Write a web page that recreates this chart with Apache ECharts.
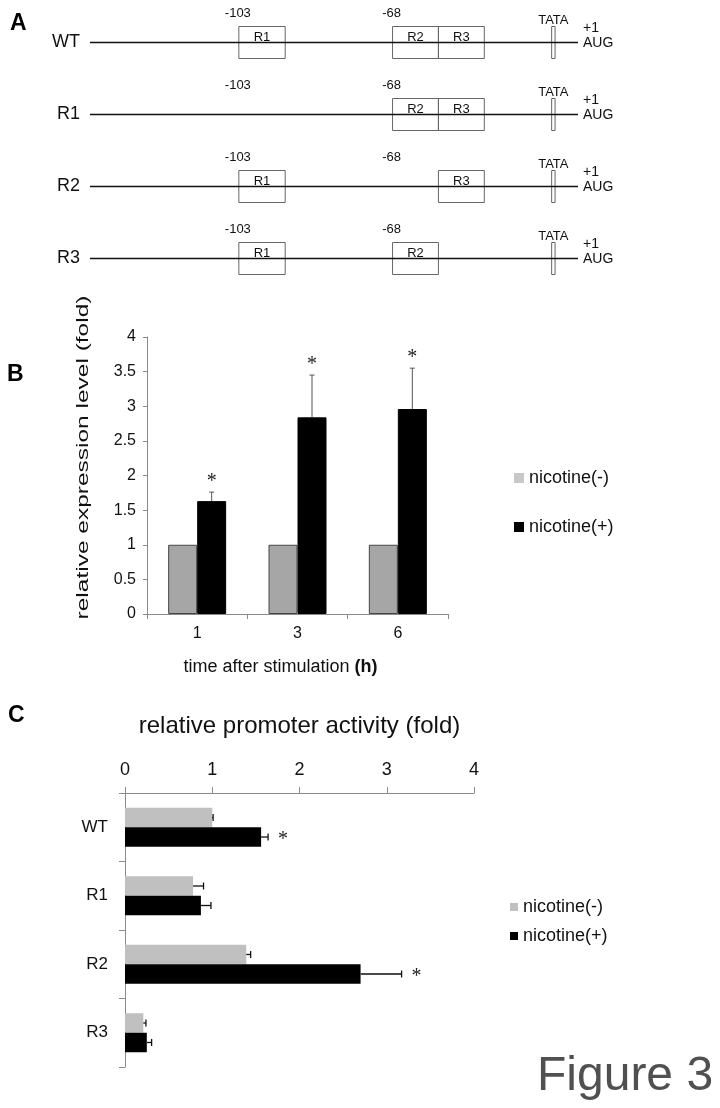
<!DOCTYPE html>
<html><head><meta charset="utf-8">
<script src="https://cdn.jsdelivr.net/npm/echarts@6/dist/echarts.min.js"></script>
<style>html,body{margin:0;padding:0;background:#fff}#c{width:720px;height:1108px}</style>
</head><body><div id="c"></div>
<script>
// ---------- Panel A: promoter constructs (schematic units 0..100) ----------
const constructs = ['WT', 'R1', 'R2', 'R3'];
const regionNames = ['R1', 'R2', 'R3'];
const regionStart = [30.5, 62.0, 71.4];
const regionEnd = [40.0, 71.4, 80.8];
const regionSiteLabels = ['-103', '-68', ''];
const deletedRegion = [null, 'R1', 'R2', 'R3'];
const backboneSpan = [0, 100];
const tataSpan = [94.6, 95.3];
const tataLabel = 'TATA';
const startLabels = ['+1', 'AUG'];

// ---------- Panel B: expression time course ----------
const timeCats = ['1', '3', '6'];
const exprMinus = [1, 1, 1];
const exprPlus = [1.63, 2.84, 2.96];
const exprPlusErr = [0.13, 0.61, 0.59];
const exprPlusSig = [true, true, true];
const bAxisMin = 0, bAxisMax = 4, bAxisStep = 0.5;

// ---------- Panel C: promoter activity ----------
const promCats = ['WT', 'R1', 'R2', 'R3'];
const promMinus = [1.00, 0.78, 1.39, 0.21];
const promMinusErr = [0.01, 0.12, 0.05, 0.03];
const promPlus = [1.56, 0.87, 2.70, 0.25];
const promPlusErr = [0.08, 0.115, 0.47, 0.055];
const promPlusSig = [true, false, true, false];
const cAxisMin = 0, cAxisMax = 4, cAxisStep = 1;

const seriesNames = ['nicotine(-)', 'nicotine(+)'];

// ---------- styles ----------
const FF = '"Liberation Sans", Arial, sans-serif';
const AX = '#8a8a8a';
const TXT = '#111';
const grayB = '#a6a6a6';
const grayC = '#c0c0c0';
const barWB = 29;
const barWC = 19.5;

// build data for panel A
const backboneData = constructs.map((c, i) => [i, backboneSpan[0], backboneSpan[1]]);
const regionData = [];
constructs.forEach((c, i) => {
  regionNames.forEach((r, k) => {
    if (deletedRegion[i] !== r) regionData.push([i, regionStart[k], regionEnd[k], k]);
  });
});
const siteData = [];
constructs.forEach((c, i) => {
  regionSiteLabels.forEach((l, k) => { if (l) siteData.push([i, regionStart[k], k]); });
});
const tataData = constructs.map((c, i) => [i, tataSpan[0], tataSpan[1]]);

const errB = timeCats.map((c, i) => [i, exprPlus[i], exprPlusErr[i], exprPlusSig[i] ? 1 : 0]);
const errC = [];
promCats.forEach((c, i) => {
  errC.push([promMinus[i], i, promMinusErr[i], 0, 0]);
  errC.push([promPlus[i], i, promPlusErr[i], 1, promPlusSig[i] ? 1 : 0]);
});

const chart = echarts.init(document.getElementById('c'), null, { renderer: 'canvas' });

const option = {
  animation: false,
  backgroundColor: '#fff',
  textStyle: { fontFamily: FF },
  grid: [
    { left: 90, right: 142, top: 6.5, bottom: 813.5 },
    { left: 147, right: 272, top: 337, bottom: 494 },
    { left: 125, right: 246, top: 793, bottom: 41 }
  ],
  xAxis: [
    { gridIndex: 0, type: 'value', min: backboneSpan[0], max: backboneSpan[1], show: false },
    {
      gridIndex: 1, type: 'category', data: timeCats,
      axisLine: { lineStyle: { color: AX, width: 1 } },
      axisTick: { show: true, length: 5, lineStyle: { color: AX } },
      axisLabel: { fontSize: 16, color: TXT, margin: 12, fontFamily: FF },
      name: 'time after stimulation {b|(h)}',
      nameLocation: 'middle', nameGap: 44,
      nameTextStyle: {
        fontSize: 18, color: TXT, fontFamily: FF, padding: [0, 34, 0, 0],
        rich: { b: { fontSize: 18, fontWeight: 'bold', color: TXT, fontFamily: FF } }
      }
    },
    {
      gridIndex: 2, type: 'value', position: 'top', min: cAxisMin, max: cAxisMax, interval: cAxisStep,
      axisLine: { show: true, lineStyle: { color: AX, width: 1 } },
      axisTick: { show: true, length: 6, lineStyle: { color: AX } },
      axisLabel: { fontSize: 18, color: TXT, margin: 14, fontFamily: FF },
      splitLine: { show: false },
      name: 'relative promoter activity (fold)',
      nameLocation: 'middle', nameGap: 55,
      nameTextStyle: { fontSize: 24, color: TXT, fontFamily: FF }
    }
  ],
  yAxis: [
    {
      gridIndex: 0, type: 'category', data: constructs, inverse: true,
      axisLine: { show: false }, axisTick: { show: false },
      axisLabel: { fontSize: 18, color: TXT, margin: 10, fontFamily: FF }
    },
    {
      gridIndex: 1, type: 'value', min: bAxisMin, max: bAxisMax, interval: bAxisStep,
      axisLine: { show: true, lineStyle: { color: AX, width: 1 } },
      axisTick: { show: true, length: 4, lineStyle: { color: AX } },
      axisLabel: { fontSize: 16, color: TXT, margin: 11, fontFamily: FF },
      splitLine: { show: false }
    },
    {
      gridIndex: 2, type: 'category', data: promCats, inverse: true,
      axisLine: { show: true, lineStyle: { color: AX, width: 1 } },
      axisTick: { show: true, length: 6, lineStyle: { color: AX } },
      axisLabel: { fontSize: 17, color: TXT, margin: 17, fontFamily: FF }
    }
  ],
  legend: [
    {
      left: 509, top: 463, orient: 'vertical', icon: 'rect',
      itemWidth: 10, itemHeight: 10, itemGap: 29, selectedMode: false,
      data: [
        { name: seriesNames[0], itemStyle: { color: '#c8c8c8', borderWidth: 0 } },
        { name: seriesNames[1], itemStyle: { color: '#000', borderWidth: 0 } }
      ],
      textStyle: { fontSize: 18, color: TXT, fontFamily: FF, lineHeight: 20 }
    },
    {
      left: 505, top: 892, orient: 'vertical', icon: 'rect',
      itemWidth: 8, itemHeight: 8, itemGap: 9, selectedMode: false,
      data: [
        { name: seriesNames[0], itemStyle: { color: grayC, borderWidth: 0 } },
        { name: seriesNames[1], itemStyle: { color: '#000', borderWidth: 0 } }
      ],
      textStyle: { fontSize: 18, color: TXT, fontFamily: FF, lineHeight: 20 }
    }
  ],
  graphic: [
    { type: 'text', left: 10, top: 12, style: { text: 'A', font: 'bold 23px ' + FF, fill: '#000' } },
    { type: 'text', left: 7, top: 363, style: { text: 'B', font: 'bold 23px ' + FF, fill: '#000' } },
    { type: 'text', left: 8, top: 704, style: { text: 'C', font: 'bold 23px ' + FF, fill: '#000' } },
    {
      type: 'text', x: 84, y: 457.5, rotation: Math.PI / 2, scaleX: 1.53,
      style: { text: 'relative expression level (fold)', font: '16px ' + FF, fill: TXT, align: 'center', verticalAlign: 'middle' }
    },
    { type: 'text', x: 537, y: 1077, style: { text: 'Figure 3', font: '48px ' + FF, fill: '#505050', align: 'left', verticalAlign: 'middle' } }
  ],
  series: [
    // Panel A backbone
    {
      type: 'custom', xAxisIndex: 0, yAxisIndex: 0, silent: true, z: 3,
      encode: { x: [1, 2], y: 0 },
      data: backboneData,
      renderItem: function (params, api) {
        const row = api.value(0);
        const p0 = api.coord([api.value(1), row]);
        const p1 = api.coord([api.value(2), row]);
        return {
          type: 'group', children: [
            { type: 'line', shape: { x1: p0[0], y1: p0[1], x2: p1[0], y2: p1[1] }, style: { stroke: '#111', lineWidth: 1.6 } },
            { type: 'text', style: { text: startLabels[0], x: p1[0] + 5, y: p1[1] - 14, align: 'left', verticalAlign: 'middle', font: '14px ' + FF, fill: TXT } },
            { type: 'text', style: { text: startLabels[1], x: p1[0] + 5, y: p1[1] + 1, align: 'left', verticalAlign: 'middle', font: '14px ' + FF, fill: TXT } }
          ]
        };
      }
    },
    // Panel A regions
    {
      type: 'custom', xAxisIndex: 0, yAxisIndex: 0, silent: true,
      encode: { x: [1, 2], y: 0 },
      data: regionData,
      renderItem: function (params, api) {
        const row = api.value(0);
        const p0 = api.coord([api.value(1), row]);
        const p1 = api.coord([api.value(2), row]);
        return {
          type: 'group', children: [
            { type: 'rect', shape: { x: p0[0], y: p0[1] - 16, width: p1[0] - p0[0], height: 32 }, style: { fill: 'none', stroke: '#666', lineWidth: 1 } },
            { type: 'text', style: { text: regionNames[api.value(3)], x: (p0[0] + p1[0]) / 2, y: p0[1] - 5, align: 'center', verticalAlign: 'middle', font: '13px ' + FF, fill: TXT } }
          ]
        };
      }
    },
    // Panel A site labels
    {
      type: 'custom', xAxisIndex: 0, yAxisIndex: 0, silent: true,
      encode: { x: 1, y: 0 },
      data: siteData,
      renderItem: function (params, api) {
        const p = api.coord([api.value(1), api.value(0)]);
        return { type: 'text', style: { text: regionSiteLabels[api.value(2)], x: p[0] - 1, y: p[1] - 29.5, align: 'center', verticalAlign: 'middle', font: '13px ' + FF, fill: TXT } };
      }
    },
    // Panel A TATA
    {
      type: 'custom', xAxisIndex: 0, yAxisIndex: 0, silent: true,
      encode: { x: [1, 2], y: 0 },
      data: tataData,
      renderItem: function (params, api) {
        const row = api.value(0);
        const p0 = api.coord([api.value(1), row]);
        const p1 = api.coord([api.value(2), row]);
        return {
          type: 'group', children: [
            { type: 'rect', shape: { x: p0[0], y: p0[1] - 16, width: p1[0] - p0[0], height: 32 }, style: { fill: 'none', stroke: '#666', lineWidth: 1 } },
            { type: 'text', style: { text: tataLabel, x: (p0[0] + p1[0]) / 2, y: p0[1] - 22, align: 'center', verticalAlign: 'middle', font: '13px ' + FF, fill: TXT } }
          ]
        };
      }
    },
    // Panel B bars
    {
      name: seriesNames[0], type: 'bar', xAxisIndex: 1, yAxisIndex: 1, data: exprMinus,
      barWidth: barWB, barGap: '0%',
      itemStyle: { color: grayB, borderColor: '#444', borderWidth: 1 }
    },
    {
      name: seriesNames[1], type: 'bar', xAxisIndex: 1, yAxisIndex: 1, data: exprPlus,
      barWidth: barWB, barGap: '0%',
      itemStyle: { color: '#000', borderColor: '#000', borderWidth: 1 }
    },
    // Panel B error bars + asterisks
    {
      type: 'custom', xAxisIndex: 1, yAxisIndex: 1, silent: true, z: 5,
      encode: { x: 0, y: 1 },
      data: errB,
      renderItem: function (params, api) {
        const ci = api.value(0), v = api.value(1), e = api.value(2);
        const b = api.coord([ci, v]);
        const t = api.coord([ci, v + e]);
        const x = b[0] + barWB / 2;
        const ch = [
          { type: 'line', shape: { x1: x, y1: b[1], x2: x, y2: t[1] }, style: { stroke: '#555', lineWidth: 1 } },
          { type: 'line', shape: { x1: x - 2.5, y1: t[1], x2: x + 2.5, y2: t[1] }, style: { stroke: '#555', lineWidth: 1 } }
        ];
        if (api.value(3)) ch.push({ type: 'text', style: { text: '*', x: x, y: t[1] - 10, align: 'center', verticalAlign: 'middle', font: '20px "Liberation Serif", serif', fill: '#222' } });
        return { type: 'group', children: ch };
      }
    },
    // Panel C bars
    {
      name: seriesNames[0], type: 'bar', xAxisIndex: 2, yAxisIndex: 2, data: promMinus,
      barWidth: barWC, barGap: '0%',
      itemStyle: { color: grayC }
    },
    {
      name: seriesNames[1], type: 'bar', xAxisIndex: 2, yAxisIndex: 2, data: promPlus,
      barWidth: barWC, barGap: '0%',
      itemStyle: { color: '#000' }
    },
    // Panel C error bars + asterisks
    {
      type: 'custom', xAxisIndex: 2, yAxisIndex: 2, silent: true, z: 5,
      encode: { x: 0, y: 1 },
      data: errC,
      renderItem: function (params, api) {
        const v = api.value(0), ci = api.value(1), e = api.value(2), slot = api.value(3);
        const b = api.coord([v, ci]);
        const t = api.coord([v + e, ci]);
        const y = b[1] + (slot === 0 ? -barWC / 2 : barWC / 2);
        const ch = [
          { type: 'line', shape: { x1: b[0], y1: y, x2: t[0], y2: y }, style: { stroke: '#111', lineWidth: 1.3 } },
          { type: 'line', shape: { x1: t[0], y1: y - 3.5, x2: t[0], y2: y + 3.5 }, style: { stroke: '#111', lineWidth: 1.3 } }
        ];
        if (api.value(4)) ch.push({ type: 'text', style: { text: '*', x: t[0] + 15, y: y + 3, align: 'center', verticalAlign: 'middle', font: '20px "Liberation Serif", serif', fill: '#222' } });
        return { type: 'group', children: ch };
      }
    }
  ]
};

chart.setOption(option);
</script>
</body></html>
